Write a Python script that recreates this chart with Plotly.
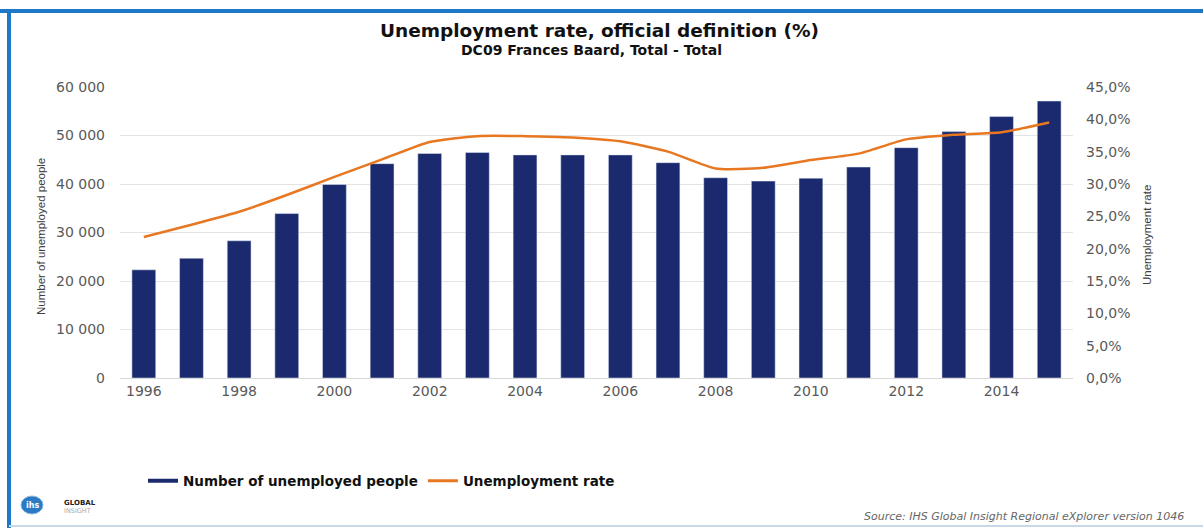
import plotly.graph_objects as go

years = list(range(1996, 2016))
unemployed = [22300, 24700, 28300, 33900, 39900, 44200, 46300, 46500, 46000, 46000,
              46000, 44400, 41300, 40600, 41200, 43500, 47500, 50800, 53900, 57100]
rate = [21.8, 23.7, 25.7, 28.3, 31.1, 33.8, 36.5, 37.4, 37.4, 37.2,
        36.6, 35.0, 32.4, 32.5, 33.7, 34.7, 36.9, 37.6, 38.0, 39.5]
xtick_years = [1996, 1998, 2000, 2002, 2004, 2006, 2008, 2010, 2012, 2014]
left_ticks = [0, 10000, 20000, 30000, 40000, 50000, 60000]
left_labels = ["0", "10 000", "20 000", "30 000", "40 000", "50 000", "60 000"]
right_ticks = [0, 5, 10, 15, 20, 25, 30, 35, 40, 45]
right_labels = ["0,0%", "5,0%", "10,0%", "15,0%", "20,0%", "25,0%", "30,0%", "35,0%", "40,0%", "45,0%"]

NAVY = "#1B2A6E"
ORANGE = "#E87722"
TICK = "#595959"
W, H = 1203, 528
L, R, T, B = 120, 1073, 87, 378


def px(x):
    return (x - L) / (R - L)


def py(y):
    return (B - y) / (B - T)


fig = go.Figure()
fig.add_trace(go.Bar(x=years, y=unemployed, marker_color=NAVY, width=0.5,
                     showlegend=False, name="Number of unemployed people"))
fig.add_trace(go.Scatter(x=years, y=rate, mode="lines", yaxis="y2",
                         line=dict(color=ORANGE, width=2.5, shape="spline", smoothing=0.6),
                         showlegend=False, name="Unemployment rate"))
# legend entries
fig.add_trace(go.Scatter(x=[None], y=[None], mode="lines", line=dict(color=NAVY, width=4),
                         name="<b>Number of unemployed people</b>"))
fig.add_trace(go.Scatter(x=[None], y=[None], mode="lines", line=dict(color=ORANGE, width=3),
                         name="<b>Unemployment rate</b>", yaxis="y2"))

font_main = "DejaVu Sans, Verdana, sans-serif"
narrow = "Liberation Sans Narrow, Arial Narrow, Liberation Sans, sans-serif"


def ann(text, x, y, size, color, family=font_main, xanchor="center", angle=0):
    return dict(text=text, x=px(x), y=py(y), xref="paper", yref="paper", xanchor=xanchor,
                yanchor="middle", showarrow=False, textangle=angle,
                font=dict(size=size, color=color, family=family))


annotations = [
    ann("<b>Unemployment rate, official definition (%)</b>", 599, 30, 18.5, "#111"),
    ann("<b>DC09 Frances Baard, Total - Total</b>", 591, 50, 14, "#111"),
    ann("Number of unemployed people", 41, 237, 11.5, "#404040", narrow, angle=-90),
    ann("Unemployment rate", 1147, 235, 11.5, "#404040", narrow, angle=-90),
    ann("<i>Source: IHS Global Insight Regional eXplorer version 1046</i>", 1186, 516, 11, "#666",
        xanchor="right"),
    ann("<b>GLOBAL</b>", 62, 503, 7, "#222", xanchor="left"),
    ann("INSIGHT", 62, 511, 6.5, "#aaa", xanchor="left"),
    ann("<b>ihs</b>", 32, 505, 8, "white"),
]

shapes = [
    dict(type="line", xref="paper", yref="paper", x0=px(0), x1=px(W), y0=py(11), y1=py(11),
         line=dict(color="#1E78C8", width=4)),
    dict(type="line", xref="paper", yref="paper", x0=px(9), x1=px(9), y0=py(9), y1=py(528),
         line=dict(color="#1E78C8", width=4)),
    dict(type="line", xref="paper", yref="paper", x0=px(9), x1=px(W), y0=py(526), y1=py(526),
         line=dict(color="#C8D8E8", width=2)),
    dict(type="circle", xref="paper", yref="paper", x0=px(21), x1=px(43), y0=py(496), y1=py(514),
         fillcolor="#2A7BC4", line=dict(color="#8FB8E0", width=1)),
]

fig.update_layout(
    width=W, height=H,
    margin=dict(l=L, r=W - R, t=T, b=H - B),
    paper_bgcolor="white", plot_bgcolor="white",
    font=dict(family=font_main, color=TICK),
    xaxis=dict(range=[1995.5, 2015.5], tickmode="array", tickvals=xtick_years,
               ticktext=[str(y) for y in xtick_years],
               showgrid=False, zeroline=False, showline=True, linecolor="#d9d9d9",
               tickfont=dict(size=14, color=TICK), ticks="", ticklabelstandoff=0),
    yaxis=dict(range=[0, 60000], tickmode="array", tickvals=left_ticks, ticktext=left_labels,
               showgrid=True, gridcolor="#e3e3e3", gridwidth=1, zeroline=False,
               tickfont=dict(size=14, color=TICK), ticklabelstandoff=14),
    yaxis2=dict(range=[0, 45], tickmode="array", tickvals=right_ticks, ticktext=right_labels,
                overlaying="y", side="right", showgrid=False, zeroline=False,
                tickfont=dict(size=14, color=TICK), ticklabelstandoff=12),
    legend=dict(orientation="h", x=px(143), y=py(481), xanchor="left", yanchor="middle",
                font=dict(size=13.5, color="#111", family=font_main),
                itemwidth=30, bgcolor="rgba(0,0,0,0)"),
    annotations=annotations,
    shapes=shapes,
)

fig.write_html("out.html")
